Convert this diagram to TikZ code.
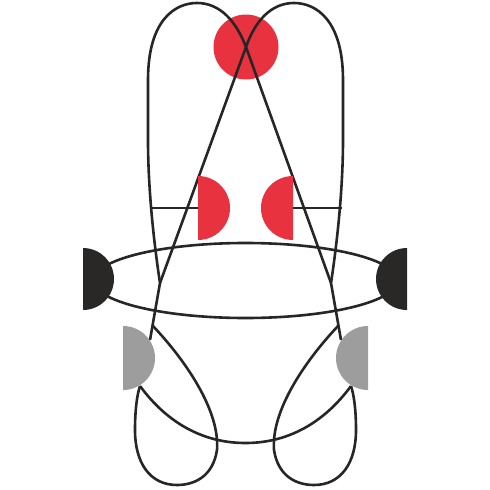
\documentclass[tikz,border=0pt]{standalone}
\definecolor{cred}{HTML}{E8323F}
\definecolor{cblack}{HTML}{2A2827}
\definecolor{cgray}{HTML}{9D9D9D}
\definecolor{cline}{HTML}{262626}
\tikzset{
  wire/.style={draw=cline, line width=2.6pt},
  reddisk/.style={fill=cred},
  blackdisk/.style={fill=cblack},
  graydisk/.style={fill=cgray}
}
\begin{document}
\begin{tikzpicture}[x=1pt,y=-1pt]
\useasboundingbox (0,0) rectangle (490,490);
% top red circle (beneath the wires)
\fill[reddisk] (246,47) circle (32.5);
% key points
\coordinate (JL) at (160,283);
\coordinate (JR) at (331,283);
\coordinate (X) at (246,47);
\coordinate (BL) at (153,326);
\coordinate (BR) at (338,326);
\coordinate (GL) at (150,340);
\coordinate (GR) at (341,340);
\coordinate (GLb) at (140,386);
\coordinate (GRb) at (351,386);
% left arch -> right diagonal
\draw[wire] (JL) .. controls (152,230) and (148,180) .. (148,140) -- (148,80)
  .. controls (148,20) and (175,3) .. (197,3)
  .. controls (220,3) and (236,21) .. (X) -- (JR);
% right arch -> left diagonal
\draw[wire] (JR) .. controls (339,230) and (343,180) .. (343,140) -- (343,80)
  .. controls (343,20) and (316,3) .. (294,3)
  .. controls (271,3) and (255,21) .. (X) -- (JL);
% horizontal bars to red half disks
\coordinate (HL) at (149.5,208);
\coordinate (HLe) at (198,208);
\coordinate (HR) at (341.5,208);
\coordinate (HRe) at (293,208);
\draw[wire] (HL) -- (HLe);
\draw[wire] (HR) -- (HRe);
% ellipse
\draw[wire] (245.5,280.5) ellipse [x radius=152, y radius=37.5];
% lines down to gray disks
\draw[wire] (JL) -- (GL);
\draw[wire] (JR) -- (GR);
% teardrop loops
\draw[wire] (BL) .. controls (185,360) and (220,410) .. (217,450)
  .. controls (213,476) and (195,485) .. (177,485)
  .. controls (150,485) and (135,463) .. (135,430)
  .. controls (135,410) and (137,395) .. (GLb);
\draw[wire] (BR) .. controls (306,360) and (271,410) .. (274,450)
  .. controls (278,476) and (296,485) .. (314,485)
  .. controls (341,485) and (356,463) .. (356,430)
  .. controls (356,410) and (354,395) .. (GRb);
% U curve
\draw[wire] (GLb) .. controls (165,420) and (200,443) .. (245.5,443)
  .. controls (291,443) and (326,420) .. (GRb);
% half disks (y axis points down: angle 90 is below the centre)
\fill[reddisk] (198,240) arc[start angle=90, end angle=-90, radius=32] -- cycle;
\fill[reddisk] (293,240) arc[start angle=90, end angle=270, radius=32] -- cycle;
\fill[blackdisk] (83,310) arc[start angle=90, end angle=-90, radius=31] -- cycle;
\fill[blackdisk] (407,310) arc[start angle=90, end angle=270, radius=31] -- cycle;
\fill[graydisk] (123,390) arc[start angle=90, end angle=-90, radius=32] -- cycle;
\fill[graydisk] (368,390) arc[start angle=90, end angle=270, radius=32] -- cycle;
\end{tikzpicture}
\end{document}
